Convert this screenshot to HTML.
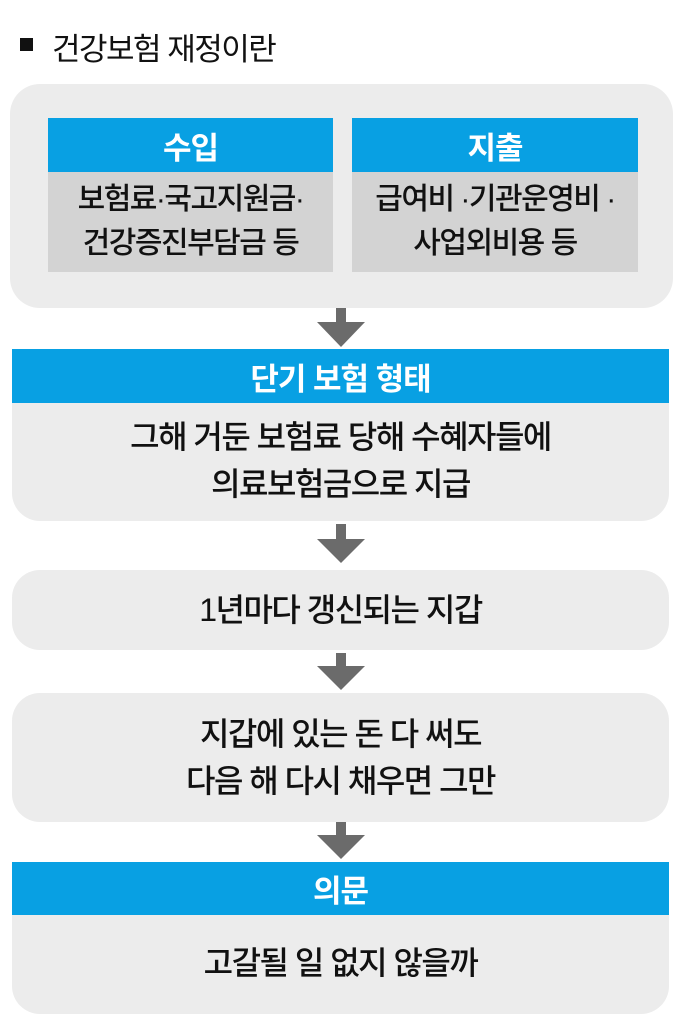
<!DOCTYPE html>
<html><head><meta charset="utf-8"><style>
*{margin:0;padding:0;box-sizing:border-box}
body{width:691px;height:1033px;background:#fff;position:relative;font-family:"Liberation Sans","Noto Sans CJK KR",sans-serif;color:#111;overflow:hidden}
.a{position:absolute}
.c{display:flex;align-items:center;justify-content:center;text-align:center}
.blue{background:#08a0e3;color:#fff;font-weight:bold;font-size:31px;letter-spacing:-1px}
.gray{background:#ececec}
.t{font-size:32px;line-height:47px;letter-spacing:-1.5px;font-weight:500}
</style></head><body>
<div class="a" style="left:20px;top:38px;width:13px;height:13px;background:#111"></div>
<div class="a" style="left:52px;top:24px;font-size:31px;letter-spacing:-1.5px">건강보험 재정이란</div>

<div class="a gray" style="left:10px;top:84px;width:663px;height:224px;border-radius:30px"></div>
<div class="a blue c" style="left:48px;top:118px;width:285px;height:54px">수입</div>
<div class="a c t" style="left:48px;top:172px;width:285px;height:100px;background:#d3d3d3;font-size:30px;line-height:44px">보험료·국고지원금·<br>건강증진부담금 등</div>
<div class="a blue c" style="left:352px;top:118px;width:286px;height:54px">지출</div>
<div class="a c t" style="left:352px;top:172px;width:286px;height:100px;background:#d3d3d3;font-size:30px;line-height:44px">급여비 ·기관운영비 ·<br>사업외비용 등</div>

<svg class="a" style="left:0;top:0" width="691" height="1033">
<g fill="#6b6b6b">
<rect x="336" y="308" width="10" height="15"/><polygon points="317,322 365,322 341,347"/>
<rect x="336" y="524" width="10" height="16"/><polygon points="317,539 365,539 341,563"/>
<rect x="336" y="653" width="10" height="14"/><polygon points="317,666 365,666 341,690"/>
<rect x="336" y="822" width="10" height="14"/><polygon points="317,835 365,835 341,859"/>
</g></svg>

<div class="a gray" style="left:12px;top:349px;width:657px;height:172px;border-radius:0 0 28px 28px"></div>
<div class="a blue c" style="left:12px;top:349px;width:657px;height:54px">단기 보험 형태</div>
<div class="a c t" style="left:12px;top:403px;width:657px;height:116px">그해 거둔 보험료 당해 수혜자들에<br>의료보험금으로 지급</div>

<div class="a gray c t" style="left:12px;top:570px;width:657px;height:80px;border-radius:28px">1년마다 갱신되는 지갑</div>

<div class="a gray c t" style="left:12px;top:693px;width:657px;height:129px;border-radius:28px">지갑에 있는 돈 다 써도<br>다음 해 다시 채우면 그만</div>

<div class="a gray" style="left:12px;top:862px;width:657px;height:152px;border-radius:0 0 28px 28px"></div>
<div class="a blue c" style="left:12px;top:862px;width:657px;height:53px">의문</div>
<div class="a c t" style="left:12px;top:915px;width:657px;height:97px">고갈될 일 없지 않을까</div>
</body></html>
